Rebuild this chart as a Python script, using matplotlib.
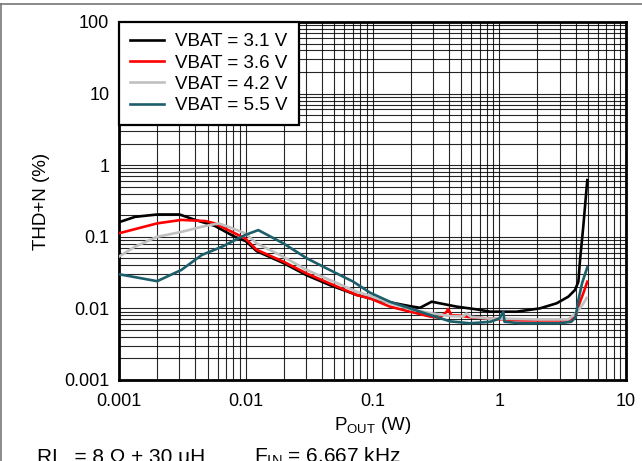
import matplotlib
matplotlib.use("Agg")
import matplotlib.pyplot as plt
import numpy as np
from matplotlib.lines import Line2D
from matplotlib.ticker import LogLocator, FuncFormatter, NullFormatter

plt.rcParams['font.family'] = ['Liberation Sans', 'DejaVu Sans']
plt.rcParams['mathtext.fontset'] = 'custom'
plt.rcParams['mathtext.rm'] = 'Liberation Sans'
plt.rcParams['mathtext.it'] = 'Liberation Sans:italic'

# THD+N vs output power
labels = ['VBAT = 3.1 V', 'VBAT = 3.6 V', 'VBAT = 4.2 V', 'VBAT = 5.5 V']
colors = ['#000000', '#ff0000', '#c0c0c0', '#1d5e6b']

p_31 = [0.001, 0.00134, 0.002, 0.003, 0.004, 0.0057, 0.0082, 0.01, 0.0122, 0.0198,
        0.0303, 0.046, 0.075, 0.108, 0.15, 0.2, 0.237, 0.26, 0.293, 0.46, 0.66,
        0.85, 1.37, 2.09, 2.84, 3.51, 3.96, 4.21, 4.34, 4.6, 4.95]
thd_31 = [0.16, 0.19, 0.205, 0.205, 0.172, 0.142, 0.100, 0.087, 0.063, 0.043,
          0.029, 0.0212, 0.0154, 0.0131, 0.0118, 0.0107, 0.0102, 0.0111, 0.0124, 0.0106, 0.0097,
          0.0090, 0.0090, 0.0100, 0.0118, 0.0146, 0.0181, 0.0236, 0.0474, 0.138, 0.62]

p_36 = [0.001, 0.002, 0.0031, 0.0048, 0.0057, 0.0073, 0.0099, 0.0122, 0.0198, 0.0303,
        0.046, 0.075, 0.0955, 0.137, 0.198, 0.284, 0.34, 0.385, 0.395, 0.42, 0.49,
        0.6, 0.85, 1.5, 3.5, 4.0, 4.3, 4.6, 4.95]
thd_36 = [0.112, 0.154, 0.172, 0.166, 0.154, 0.124, 0.095, 0.0658, 0.045, 0.0307,
          0.0223, 0.0154, 0.0138, 0.0106, 0.0090, 0.0077, 0.0074, 0.0090, 0.0098, 0.0080, 0.0079,
          0.0075, 0.0072, 0.0068, 0.0068, 0.0077, 0.0118, 0.0162, 0.0236]

p_42 = [0.001, 0.00134, 0.002, 0.0031, 0.0045, 0.0061, 0.0073, 0.0099, 0.0122, 0.0198,
        0.0303, 0.046, 0.075, 0.0955, 0.137, 0.198, 0.284, 0.41, 0.52, 0.55, 0.6,
        0.85, 1.0, 2.0, 3.5, 4.0, 4.5, 4.9]
thd_42 = [0.053, 0.073, 0.100, 0.117, 0.138, 0.154, 0.138, 0.112, 0.081, 0.0527,
          0.0344, 0.025, 0.0171, 0.0150, 0.0118, 0.0098, 0.0086, 0.0078, 0.0077, 0.0085, 0.0076,
          0.0072, 0.0072, 0.0070, 0.0070, 0.0085, 0.011, 0.014]

p_55 = [0.001, 0.002, 0.0031, 0.0045, 0.0065, 0.0099, 0.01256, 0.0198, 0.0303, 0.046,
        0.0706, 0.0955, 0.137, 0.198, 0.284, 0.409, 0.587, 0.85, 1.0, 1.077, 1.1,
        1.5, 3.0, 3.7, 4.0, 4.21, 4.5, 4.95]
thd_55 = [0.030, 0.024, 0.0344, 0.0557, 0.0728, 0.106, 0.124, 0.081, 0.0501, 0.0344,
          0.0236, 0.0166, 0.0124, 0.0100, 0.0081, 0.0066, 0.0062, 0.0065, 0.0072, 0.0090, 0.0065,
          0.0062, 0.0062, 0.0065, 0.0075, 0.0131, 0.0224, 0.0376]

series = [(p_31, thd_31), (p_36, thd_36), (p_42, thd_42), (p_55, thd_55)]

W, H = 642, 461
fig = plt.figure(figsize=(W / 100, H / 100), dpi=100)
ax = fig.add_axes([119 / W, 1 - 380 / H, (626 - 119) / W, (380 - 22) / H])

for (x, y), lab, c in zip(series, labels, colors):
    ax.plot(x, y, color=c, lw=1.9, label=lab, zorder=3)

ax.set_xscale('log')
ax.set_yscale('log')
ax.set_xlim(0.001, 10)
ax.set_ylim(0.001, 100)

fmt = FuncFormatter(lambda v, pos: '{:g}'.format(v))
for axis in (ax.xaxis, ax.yaxis):
    axis.set_major_locator(LogLocator(base=10, numticks=20))
    axis.set_minor_locator(LogLocator(base=10, subs=np.arange(2, 10), numticks=20))
    axis.set_major_formatter(fmt)
    axis.set_minor_formatter(NullFormatter())

ax.grid(True, which='both', color='black', lw=0.8, alpha=0.85, zorder=1)
ax.tick_params(which='both', length=0, labelsize=13)
ax.tick_params(axis='y', pad=7)
ax.tick_params(axis='x', pad=9)
for s in ax.spines.values():
    s.set_linewidth(2.0)

ax.set_ylabel('THD+N (%)', fontsize=13.5, labelpad=10)
ax.set_xlabel(r'P$_{\mathrm{OUT}}$ (W)', fontsize=13.5, labelpad=4)

leg = ax.legend(loc='upper left', borderaxespad=0, fontsize=13.5, handlelength=1.8,
                handletextpad=0.6, labelspacing=0.22, borderpad=0.6, fancybox=False,
                framealpha=1, edgecolor='black')
leg.get_frame().set_linewidth(1.6)
leg.set_zorder(5)

# page frame lines from the cropped datasheet
fig.add_artist(Line2D([0, 1], [1 - 4 / H, 1 - 4 / H], color='#777777', lw=1.2))
fig.add_artist(Line2D([1 / W, 1 / W], [0, 1 - 4 / H], color='#777777', lw=1.2))

fig.text(37 / W, -2 / H, 'RL  = 8 Ω + 30 μH', fontsize=15, va='baseline')
fig.text(254 / W, -2 / H, r'F$_{\mathrm{IN}}$ = 6.667 kHz', fontsize=15, va='baseline')

fig.savefig('out.png', dpi=100)
